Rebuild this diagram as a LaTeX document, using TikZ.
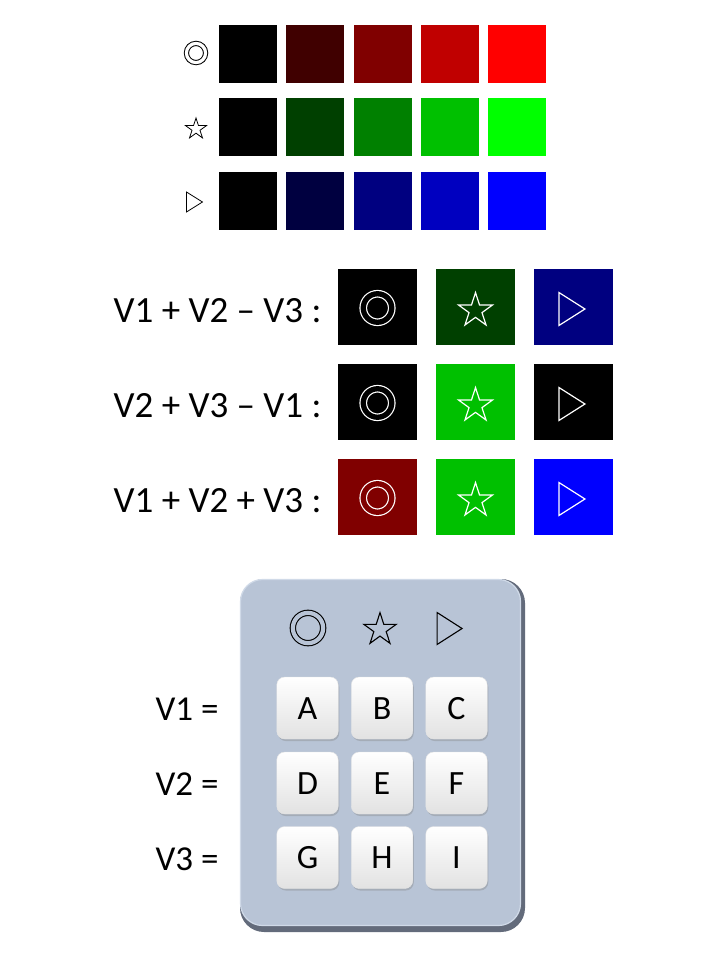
\documentclass[tikz,border=0pt]{standalone}
\usepackage{fontspec}
\setmainfont{Carlito}
\usetikzlibrary{shapes.geometric,shadows}
\definecolor{redA}{RGB}{64,0,0}
\definecolor{redB}{RGB}{128,0,0}
\definecolor{redC}{RGB}{192,0,0}
\definecolor{redD}{RGB}{255,0,0}
\definecolor{grnA}{RGB}{0,64,0}
\definecolor{grnB}{RGB}{0,128,0}
\definecolor{grnC}{RGB}{0,192,0}
\definecolor{grnD}{RGB}{0,255,0}
\definecolor{bluA}{RGB}{0,0,64}
\definecolor{bluB}{RGB}{0,0,128}
\definecolor{bluC}{RGB}{0,0,192}
\definecolor{bluD}{RGB}{0,0,255}
\definecolor{padBlue}{RGB}{184,196,214}
\definecolor{padEdge}{RGB}{99,107,123}
\definecolor{padLight}{RGB}{208,218,232}
\definecolor{keyGray}{RGB}{226,226,226}

\begin{document}
\begin{tikzpicture}[x=1pt,y=-1pt,
  sq/.style={rectangle,minimum size=58pt,inner sep=0pt},
  bigsq/.style={rectangle,minimum width=79pt,minimum height=76pt,inner sep=0pt},
  ring/.style={circle,draw,double,inner sep=0pt},
  star5/.style={star,star points=5,star point ratio=2.618,draw,inner sep=0pt},
  tri/.style={isosceles triangle,isosceles triangle stretches,draw,inner sep=0pt,anchor=apex},
  wring/.style={ring,draw=white,line width=1.2pt,double distance=5.3pt,minimum size=28.5pt},
  wstar/.style={star5,draw=white,line width=1.2pt,minimum size=35.8pt},
  wtri/.style={tri,draw=white,line width=1.2pt,minimum height=26pt,minimum width=33pt},
  sumlab/.style={anchor=base east,font=\fontsize{37}{44}\selectfont},
  vlab/.style={anchor=base east,font=\fontsize{35}{42}\selectfont},
  padkey/.style={rectangle,rounded corners=8pt,minimum width=61.5pt,minimum height=62pt,
                 top color=white,bottom color=keyGray,draw=black!10,line width=0.4pt,
                 drop shadow={shadow xshift=1pt,shadow yshift=-2pt,opacity=0.35},
                 font=\fontsize{34}{40}\selectfont,text height=22pt,text depth=0pt}
]
  \useasboundingbox (0,0) rectangle (720,960);

  % colour grid
  \node[ring,line width=1pt,double distance=3.2pt,minimum size=19.2pt] (symR) at (196,53) {};
  \node[star5,line width=0.8pt,minimum size=22pt] (symG) at (196,129) {};
  \node[tri,line width=0.8pt,minimum height=16pt,minimum width=20pt] (symB) at (203.5,202) {};

  \node[sq,fill=black] (red0) at (248,54) {};
  \node[sq,fill=redA]  (red1) at (315,54) {};
  \node[sq,fill=redB]  (red2) at (382.5,54) {};
  \node[sq,fill=redC]  (red3) at (450,54) {};
  \node[sq,fill=redD]  (red4) at (517,54) {};

  \node[sq,fill=black] (grn0) at (248,127) {};
  \node[sq,fill=grnA]  (grn1) at (315,127) {};
  \node[sq,fill=grnB]  (grn2) at (382.5,127) {};
  \node[sq,fill=grnC]  (grn3) at (450,127) {};
  \node[sq,fill=grnD]  (grn4) at (517,127) {};

  \node[sq,fill=black] (blu0) at (248,201) {};
  \node[sq,fill=bluA]  (blu1) at (315,201) {};
  \node[sq,fill=bluB]  (blu2) at (382.5,201) {};
  \node[sq,fill=bluC]  (blu3) at (450,201) {};
  \node[sq,fill=bluD]  (blu4) at (517,201) {};

  % sums
  \node[sumlab] (sumA) at (325,322) {V1 + V2 – V3 :};
  \node[bigsq,fill=black] (sumA1) at (377.5,307) {};
  \node[bigsq,fill=grnA]  (sumA2) at (475.5,307) {};
  \node[bigsq,fill=bluB]  (sumA3) at (573.5,307) {};
  \node[wring,double=black] (ringA) at (377.5,308) {};
  \node[wstar] (starA) at (475.5,310.5) {};
  \node[wtri] (triA) at (586.5,309) {};

  \node[sumlab] (sumB) at (325,417) {V2 + V3 – V1 :};
  \node[bigsq,fill=black] (sumB1) at (377.5,402) {};
  \node[bigsq,fill=grnC]  (sumB2) at (475.5,402) {};
  \node[bigsq,fill=black] (sumB3) at (573.5,402) {};
  \node[wring,double=black] (ringB) at (377.5,403) {};
  \node[wstar] (starB) at (475.5,405.5) {};
  \node[wtri] (triB) at (586.5,404) {};

  \node[sumlab] (sumC) at (325,512) {V1 + V2 + V3 :};
  \node[bigsq,fill=redB]  (sumC1) at (377.5,497) {};
  \node[bigsq,fill=grnC]  (sumC2) at (475.5,497) {};
  \node[bigsq,fill=bluD]  (sumC3) at (573.5,497) {};
  \node[wring,double=redB] (ringC) at (377.5,498) {};
  \node[wstar] (starC) at (475.5,500.5) {};
  \node[wtri] (triC) at (586.5,499) {};

  % keypad
  \node[rectangle,rounded corners=24pt,fill=padEdge,minimum width=285pt,minimum height=353pt] (edge) at (382.5,755.5) {};
  \node[rectangle,rounded corners=22pt,fill=padBlue,draw=padLight,line width=1.2pt,
        minimum width=280pt,minimum height=346pt] (pad) at (380.5,752.5) {};

  \node[ring,line width=1.1pt,double=padBlue,double distance=4.2pt,minimum size=30.3pt] (padR) at (308,628) {};
  \node[star5,line width=1.1pt,minimum size=34pt] (padG) at (380,629.6) {};
  \node[tri,line width=1.1pt,minimum height=25pt,minimum width=32pt] (padB) at (463.5,628.5) {};

  \node[padkey] (keyA) at (307.5,708) {A};
  \node[padkey] (keyB) at (382,708) {B};
  \node[padkey] (keyC) at (456.5,708) {C};
  \node[padkey] (keyD) at (307.5,783) {D};
  \node[padkey] (keyE) at (382,783) {E};
  \node[padkey] (keyF) at (456.5,783) {F};
  \node[padkey] (keyG) at (307.5,857.5) {G};
  \node[padkey] (keyH) at (382,857.5) {H};
  \node[padkey] (keyI) at (456.5,857.5) {I};

  \node[vlab] (vOne)   at (222,720) {V1 =};
  \node[vlab] (vTwo)   at (222,795) {V2 =};
  \node[vlab] (vThree) at (222,870) {V3 =};
\end{tikzpicture}
\end{document}
